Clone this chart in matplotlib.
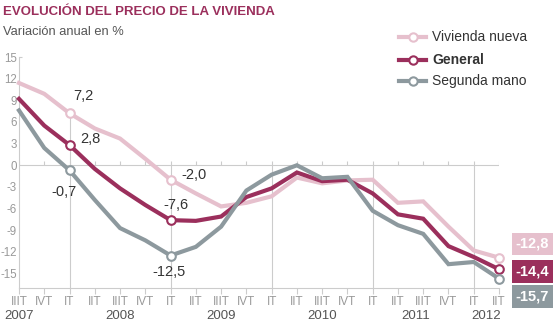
import matplotlib
matplotlib.use("Agg")
import matplotlib.pyplot as plt
from matplotlib.lines import Line2D

plt.rcParams["font.family"] = ["Liberation Sans", "DejaVu Sans"]

# quarters from IIIT 2007 to IIT 2012
quarters = ["IIIT", "IVT", "IT", "IIT", "IIIT", "IVT", "IT", "IIT", "IIIT", "IVT",
            "IT", "IIT", "IIIT", "IVT", "IT", "IIT", "IIIT", "IVT", "IT", "IIT"]
years = ["2007", "2008", "2009", "2010", "2011", "2012"]
year_pos = [0, 4, 8, 12, 15.7, 18.5]

nueva = [11.4, 9.9, 7.2, 5.1, 3.7, 0.9, -2.0, -3.9, -5.7, -5.2,
         -4.3, -1.7, -2.5, -2.1, -2.0, -5.2, -5.0, -8.5, -11.8, -12.8]
general = [9.2, 5.5, 2.8, -0.5, -3.2, -5.5, -7.6, -7.7, -7.1, -4.4,
           -3.2, -1.0, -2.2, -2.0, -3.9, -6.8, -7.4, -11.2, -12.7, -14.4]
segunda = [7.6, 2.4, -0.7, -4.8, -8.7, -10.4, -12.5, -11.3, -8.5, -3.5,
           -1.3, 0.0, -1.8, -1.6, -6.3, -8.3, -9.5, -13.7, -13.4, -15.7]

series_names = ["Vivienda nueva", "General", "Segunda mano"]
colors = ["#e6c0cd", "#9b2f5c", "#8d999e"]
marked = [2, 6, 19]

# annotated points: (series index, point index, text, offset px)
annotations = [
    (0, 2, "7,2", (14, 17)),
    (1, 2, "2,8", (21, 6)),
    (2, 2, "-0,7", (-6, -22)),
    (0, 6, "-2,0", (23, 5)),
    (1, 6, "-7,6", (5, 15)),
    (2, 6, "-12,5", (-2, -16)),
]

W, H = 560, 323
fig = plt.figure(figsize=(W / 100, H / 100), dpi=100)
ax = fig.add_axes([19 / W, 1 - 288 / H, (499 - 19) / W, (288 - 57) / H])
ymin, ymax = -17, 15
n = len(quarters)
xs = list(range(n))
ax.set_xlim(0, n - 1)
ax.set_ylim(ymin, ymax)

grid = "#cccccc"
for s in ["top", "right"]:
    ax.spines[s].set_visible(False)
ax.spines["left"].set_color(grid)
ax.spines["bottom"].set_color(grid)
ax.spines["left"].set_linewidth(0.8)
ax.spines["bottom"].set_linewidth(0.8)

ax.set_yticks(range(-15, 16, 3))
ax.set_yticklabels([str(v) for v in range(-15, 16, 3)])
ax.tick_params(axis="y", length=0, pad=1.5, labelsize=8.3, labelcolor="#999999")
ax.set_xticks(xs)
ax.set_xticklabels(quarters)
ax.tick_params(axis="x", direction="out", length=4, width=0.8, color=grid,
               pad=2, labelsize=8.5, labelcolor="#999999")
ax.hlines(15, 0, 0.12, color=grid, lw=0.8, clip_on=False)

# zero line with small ticks
ax.hlines(0, 0, n - 1, color=grid, lw=0.8, zorder=1)
ax.vlines(xs, 0, 0.55, color=grid, lw=0.8, zorder=1)

# vertical gridlines at each IT
for i, q in enumerate(quarters):
    if q == "IT":
        ax.vlines(i, ymin, max(0, nueva[i]), color=grid, lw=0.8, zorder=1)

for vals, c in zip([nueva, general, segunda], colors):
    ax.plot(xs, vals, color=c, lw=3.0, solid_joinstyle="miter", zorder=3, clip_on=False)
    ax.plot([xs[i] for i in marked], [vals[i] for i in marked], "o", ms=6.2,
            mfc="white", mec=c, mew=1.5, zorder=4, clip_on=False)

data = [nueva, general, segunda]
for si, pi, txt, off in annotations:
    ax.annotate(txt, (pi, data[si][pi]), xytext=off, textcoords="offset pixels",
                ha="center", va="center", fontsize=10.5, color="#333333")

for y, p in zip(years, year_pos):
    ax.text(p, -0.122, y, transform=ax.get_xaxis_transform(), ha="center", va="center",
            fontsize=9.5, color="#555555")

# end value boxes
box_y = [244, 271.5, 296.5]
for vals, c, by in zip(data, colors, box_y):
    fig.text(532.5 / W, 1 - by / H, f"{vals[-1]:.1f}".replace(".", ","), ha="center",
             va="center", fontsize=10.5, fontweight="bold", color="white",
             bbox=dict(boxstyle="square,pad=0.28", fc=c, ec="none"))

# legend
leg_y = [37, 60, 81]
for name, c, ly in zip(series_names, colors, leg_y):
    fig.add_artist(Line2D([399 / W, 426 / W], [1 - ly / H, 1 - ly / H], color=c, lw=3.0))
    fig.add_artist(Line2D([413 / W], [1 - ly / H], marker="o", ms=6, mfc="white", mec=c,
                          mew=1.5, color=c))
    fig.text(432 / W, 1 - ly / H, name, ha="left", va="center", fontsize=10,
             color="#333333", fontweight="bold" if name == "General" else "normal")

fig.text(3 / W, 1 - 12 / H, "EVOLUCIÓN DEL PRECIO DE LA VIVIENDA", ha="left", va="center",
         fontsize=9.5, fontweight="bold", color="#9b2f5c")
fig.text(3 / W, 1 - 32 / H, "Variación anual en %", ha="left", va="center",
         fontsize=9.3, color="#555555")

fig.savefig("out.png", dpi=100)
